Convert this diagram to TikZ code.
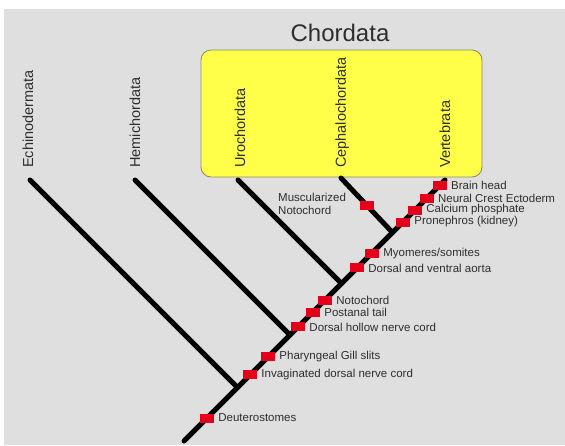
\documentclass[tikz,border=0pt]{standalone}
\usepackage{fontspec}
\setmainfont{Liberation Sans}
\usetikzlibrary{calc}
\definecolor{bggray}{HTML}{DFDFDF}
\definecolor{marker}{HTML}{E4001B}
\definecolor{boxyellow}{HTML}{FFFF4A}
\definecolor{boxedge}{HTML}{8C8C5A}
\definecolor{ink}{HTML}{2E2E2E}
\begin{document}
\begin{tikzpicture}[x=1pt,y=-1pt,
  lineage/.style={line width=5pt,line cap=round,black},
  trait/.style={fill=marker,draw=none,minimum width=14pt,minimum height=9pt,inner sep=0pt},
  traitlabel/.style={font=\fontsize{11.5}{13}\selectfont,text=ink,inner sep=0pt,anchor=west},
  taxon/.style={font=\fontsize{14.5}{16}\selectfont,text=ink,rotate=90,anchor=west,inner sep=0pt}]
  % canvas
  \useasboundingbox (0,0) rectangle (565,445);
  \fill[white] (0,0) rectangle (565,445);
  \fill[bggray] (4,9) rectangle (565,445);

  % Chordata group
  \node[draw=boxedge,line width=0.8pt,fill=boxyellow,rounded corners=10pt,
        minimum width=281pt,minimum height=127pt,inner sep=0pt] (chordbox) at (341.5,113.5) {};
  \node[font=\fontsize{24}{28}\selectfont,text=ink] (chordata) at (340,33) {Chordata};

  % tree skeleton
  \coordinate (root) at (184,441);
  \coordinate (vert) at (445,180);
  \coordinate (echtop) at (30,180);
  \coordinate (hemtop) at (135,180);
  \coordinate (urotop) at (238,180);
  \coordinate (ceptop) at (341,178);
  \coordinate (j1) at (237.5,387.5);
  \coordinate (j2) at (290,335);
  \coordinate (j3) at (341.5,283.5);
  \coordinate (j4) at (392.5,232.5);

  \draw[lineage] (root) -- (vert);
  \draw[lineage] (echtop) -- (j1);
  \draw[lineage] (hemtop) -- (j2);
  \draw[lineage] (urotop) -- (j3);
  \draw[lineage] (ceptop) -- (j4);

  % taxon names
  \node[taxon] (echino) at (28,168) {Echinodermata};
  \node[taxon] (hemi) at (135,168) {Hemichordata};
  \node[taxon] (uro) at (240,168) {Urochordata};
  \node[taxon] (ceph) at (342,168) {Cephalochordata};
  \node[taxon] (verteb) at (445,168) {Vertebrata};

  % traits along the main line
  \foreach \t/\name/\txt in {
      0.088/deut/{Deuterostomes},
      0.253/invag/{Invaginated dorsal nerve cord},
      0.322/gill/{Pharyngeal Gill slits},
      0.437/dhnc/{Dorsal hollow nerve cord},
      0.494/tail/{Postanal tail},
      0.540/noto/{Notochord},
      0.663/aorta/{Dorsal and ventral aorta},
      0.720/myo/{Myomeres/somites},
      0.839/prone/{Pronephros (kidney)},
      0.885/calc/{Calcium phosphate},
      0.930/crest/{Neural Crest Ectoderm},
      0.980/brain/{Brain head}}{
    \node[trait] (\name) at ($(root)!\t!(vert)$) {};
    \node[traitlabel] (\name-l) at ([xshift=4pt]\name.east) {\txt};
  }

  % trait on the cephalochordate branch
  \node[trait] (musc) at ($(ceptop)!0.5!(j4)$) {};
  \node[traitlabel,align=left] (musc-l) at (278,204) {Muscularized\\Notochord};
\end{tikzpicture}
\end{document}
